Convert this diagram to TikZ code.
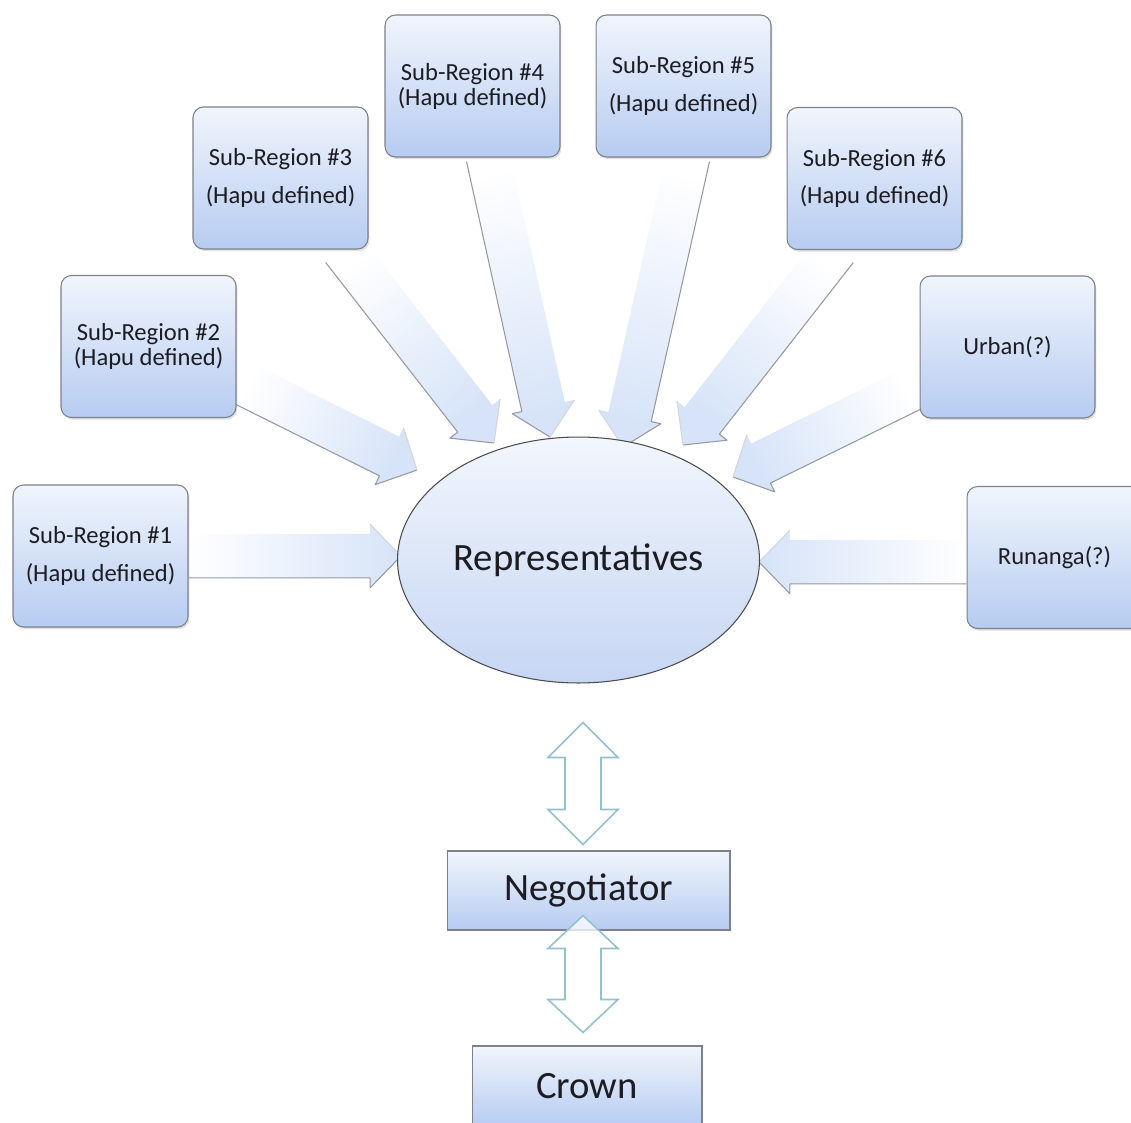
\documentclass[tikz,border=0pt]{standalone}
\usepackage{fontspec}
\setmainfont{Carlito}
\usetikzlibrary{calc,shapes.geometric,shadows}

\pgfdeclarelayer{paper}
\pgfdeclarelayer{arrows}
\pgfsetlayers{paper,arrows,main}

\definecolor{boxtop}{RGB}{241,245,252}
\definecolor{boxbot}{RGB}{182,204,241}
\definecolor{boxline}{RGB}{125,129,138}
\definecolor{ovaltop}{RGB}{242,246,253}
\definecolor{ovalbot}{RGB}{198,214,243}
\definecolor{arrowtint}{RGB}{214,227,248}
\definecolor{arrowedge}{RGB}{150,153,160}
\definecolor{dbledge}{RGB}{146,194,208}
\definecolor{inktext}{RGB}{28,28,34}

% Radial block arrow from #1 (tail) to #2 (tip); #3 = side (+90/-90) whose edge is shaded
\newcommand\radarrow[3]{%
  \path let \p1=(#1), \p2=(#2) in \pgfextra{%
    \pgfmathsetmacro\ra{atan2(\y2-\y1,\x2-\x1)}%
    \pgfmathsetmacro\rl{veclen(\x2-\x1,\y2-\y1)}%
    \xdef\arrang{\ra}\xdef\arrlen{\rl}};
  \pgfmathsetmacro\arrbase{\arrlen-17.6}%
  \pgfmathsetmacro\arrshade{\arrang-90}%
  \pgfmathsetmacro\arrside{\arrang+(#3)}%
  \pgfmathsetmacro\arrother{\arrang-(#3)}%
  \path[top color=arrowtint, bottom color=white, shading angle=\arrshade]
    ($(#1)+(\arrside:12.5pt)$)
    -- ($(#1)+(\arrang:\arrbase pt)+(\arrside:12.5pt)$)
    -- ($(#1)+(\arrang:\arrbase pt)+(\arrside:18.1pt)$)
    -- (#2)
    -- ($(#1)+(\arrang:\arrbase pt)+(\arrother:18.1pt)$)
    -- ($(#1)+(\arrang:\arrbase pt)+(\arrother:12.5pt)$)
    -- ($(#1)+(\arrother:12.5pt)$) -- cycle;
  \draw[arrowline]
    ($(#1)+(\arrside:12.5pt)$)
    -- ($(#1)+(\arrang:\arrbase pt)+(\arrside:12.5pt)$)
    -- ($(#1)+(\arrang:\arrbase pt)+(\arrside:18.1pt)$)
    -- (#2);
  \draw[arrowline, draw=arrowedge!40]
    (#2) -- ($(#1)+(\arrang:\arrbase pt)+(\arrother:18.1pt)$);
}

% Hollow two-headed arrow between #1 (top tip) and #2 (bottom tip), head length #3
\newcommand\dblarrow[3]{%
  \draw[dblarrowstyle] (#1) -- ($(#1)+(35,#3)$) -- ($(#1)+(18,#3)$)
    -- ($(#2)+(18,-#3)$) -- ($(#2)+(35,-#3)$) -- (#2)
    -- ($(#2)+(-35,-#3)$) -- ($(#2)+(-18,-#3)$)
    -- ($(#1)+(-18,#3)$) -- ($(#1)+(-35,#3)$) -- cycle;
}

\tikzset{
  region/.style={draw=boxline, line width=0.6pt, rounded corners=6pt,
    top color=boxtop, bottom color=boxbot,
    minimum width=3.5cm, minimum height=2.84cm, inner sep=0pt,
    align=center, text=inktext, font=\fontsize{14}{21.5}\selectfont,
    drop shadow={shadow xshift=0.8pt, shadow yshift=-1.2pt, opacity=0.25}},
  tight/.style={font=\fontsize{14}{14.2}\selectfont},
  oval/.style={ellipse, draw=black!70, line width=0.6pt, inner sep=0pt,
    top color=ovaltop, bottom color=ovalbot,
    minimum width=7.24cm, minimum height=4.92cm,
    text=inktext, font=\fontsize{22}{26}\selectfont},
  plainbox/.style={draw=boxline, line width=0.6pt,
    top color=boxtop, bottom color=boxbot, inner sep=0pt,
    text=inktext, font=\fontsize{22}{26}\selectfont},
  arrowline/.style={draw=arrowedge, line width=0.6pt, line join=round},
  dblarrowstyle/.style={draw=dbledge, line width=0.9pt, fill=white,
    fill opacity=0.75, line join=miter},
}

\begin{document}
\begin{tikzpicture}[x=0.02cm, y=-0.02cm]
  \useasboundingbox (0,0) rectangle (1131,1122);
  \begin{pgfonlayer}{paper}
    \fill[white] (0,0) rectangle (1131,1122);
  \end{pgfonlayer}
  \clip (0,0) rectangle (1131,1122);

  % contributor boxes
  \path (100.5,556)   node[region] (b1) {Sub-Region \#1\\(Hapu defined)}
        (148.5,346.5) node[region, tight] (b2) {Sub-Region \#2\\(Hapu defined)}
        (280.5,178)   node[region] (b3) {Sub-Region \#3\\(Hapu defined)}
        (472.5,86)    node[region, tight] (b4) {Sub-Region \#4\\(Hapu defined)}
        (683.5,86)    node[region] (b5) {Sub-Region \#5\\(Hapu defined)}
        (874.5,178.5) node[region] (b6) {Sub-Region \#6\\(Hapu defined)}
        (1007.5,347)  node[region] (bu) {Urban(?)}
        (1054.5,557.5) node[region] (br) {Runanga(?)};

  % centre oval
  \node[oval] (rep) at (578.5,560) {Representatives};

  % arrow tails on the box borders and tips near the centre oval
  \coordinate (s1) at (b1.east);          \coordinate (t1) at (401,556);
  \coordinate (s2) at (236,380);          \coordinate (t2) at (417,470);
  \coordinate (s3) at (343,249);          \coordinate (t3) at (494,443);
  \coordinate (s4) at (488,157);          \coordinate (t4) at (550,437);
  \coordinate (s5) at (688,157);          \coordinate (t5) at (623,447);
  \coordinate (s6) at (836,249);          \coordinate (t6) at (683,445);
  \coordinate (su) at (920,385);          \coordinate (tu) at (733,477);
  \coordinate (sr) at (br.west |- 0,562); \coordinate (tr) at (759,562);

  \begin{pgfonlayer}{arrows}
    \radarrow{s1}{t1}{-90}
    \radarrow{s2}{t2}{-90}
    \radarrow{s3}{t3}{-90}
    \radarrow{s4}{t4}{-90}
    \radarrow{s5}{t5}{90}
    \radarrow{s6}{t6}{90}
    \radarrow{su}{tu}{90}
    \radarrow{sr}{tr}{90}
  \end{pgfonlayer}

  % negotiation chain
  \node[plainbox, minimum width=5.66cm, minimum height=1.58cm] (neg) at (588.5,890.5) {Negotiator};
  \node[plainbox, minimum width=4.6cm, minimum height=1.6cm] (crown) at (587,1086) {Crown};

  \coordinate (u1) at ($(rep.south)+(4.5,39)$);
  \coordinate (u2) at ($(neg.north)+(-5.5,-6)$);
  \coordinate (v1) at ($(neg.south)+(-5.5,-15)$);
  \coordinate (v2) at ($(crown.north)+(-4,-13)$);
  \dblarrow{u1}{u2}{35}
  \dblarrow{v1}{v2}{33}
\end{tikzpicture}
\end{document}
